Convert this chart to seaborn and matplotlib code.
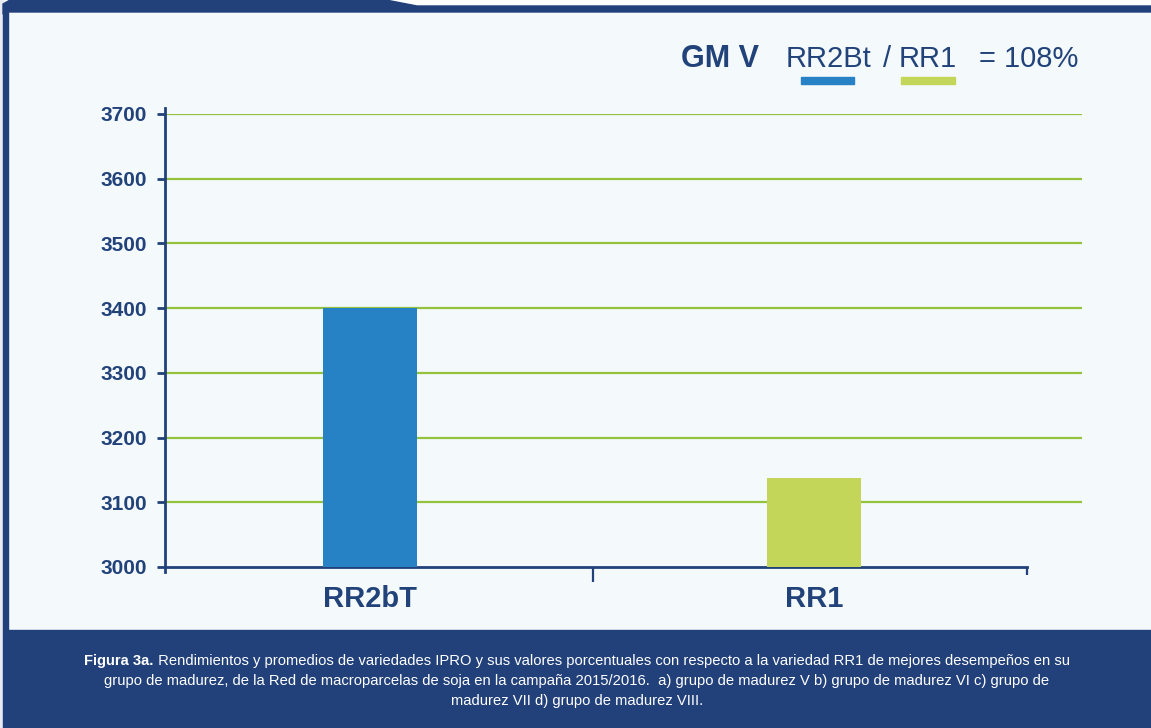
import matplotlib
matplotlib.use('Agg')
import matplotlib.pyplot as plt
import seaborn as sns
from matplotlib import font_manager
from matplotlib.patches import Polygon, Rectangle

# data
varieties = ['RR2bT', 'RR1']
yields = [3400, 3138]
bar_colors = ['#2682C4', '#C4D65A']
yticks = [3000, 3100, 3200, 3300, 3400, 3500, 3600, 3700]

title_lead = 'GM V'
title_parts = ['RR2Bt', '/', 'RR1', '= 108%']
caption_bold = 'Figura 3a.'
caption_lines = [
    ' Rendimientos y promedios de variedades IPRO y sus valores porcentuales con respecto a la variedad RR1 de mejores desempeños en su',
    'grupo de madurez, de la Red de macroparcelas de soja en la campaña 2015/2016.  a) grupo de madurez V b) grupo de madurez VI c) grupo de',
    'madurez VII d) grupo de madurez VIII.',
]

NAVY = '#22417A'
TXT = '#22427A'
GRID = '#95C23D'
BG = '#F4F9FC'

sns.set_theme(style='white')

names = {f.name for f in font_manager.fontManager.ttflist}
if 'Liberation Sans Narrow' in names:
    narrow = dict(family=['Liberation Sans Narrow', 'DejaVu Sans'])
else:
    narrow = dict(family=['Liberation Sans', 'DejaVu Sans'], stretch='condensed')
plt.rcParams['font.family'] = ['Liberation Sans', 'DejaVu Sans']

W, H = 1151, 728
fig = plt.figure(figsize=(W / 100, H / 100), dpi=100)
fig.patch.set_facecolor(BG)


def px(x, y):
    return (x / W, 1 - y / H)


# frame decorations
fig.add_artist(Rectangle(px(0, 12), 1, 12 / H, transform=fig.transFigure,
                         color='white', zorder=0))
fig.add_artist(Rectangle(px(0, H), 3 / W, 1, transform=fig.transFigure,
                         color='#E8ECF2', zorder=0))
top = [px(3, 14), px(3, 4), px(10, 0), px(386, 0), px(417, 6), px(W, 6),
       px(W, 12), px(8, 12), px(8, 14)]
fig.add_artist(Polygon(top, closed=True, transform=fig.transFigure,
                       color=NAVY, zorder=1))
fig.add_artist(Rectangle(px(3, 630), 5 / W, 618 / H, transform=fig.transFigure,
                         color=NAVY, zorder=1))
fig.add_artist(Rectangle(px(3, H), 1, 98 / H, transform=fig.transFigure,
                         color=NAVY, zorder=1))

# axes
ax = fig.add_axes([165 / W, 1 - 567 / H, (1082 - 165) / W, (567 - 114) / H])
ax.set_facecolor('none')
sns.barplot(x=varieties, y=yields, hue=varieties, palette=bar_colors,
            width=0.212, legend=False, saturation=1, linewidth=0,
            ax=ax, zorder=3)
ax.set_xlim(-0.4617, 1.6036)
ax.set_ylim(3000, 3700)
ax.set_yticks(yticks)
ax.set_yticklabels([str(v) for v in yticks], color=TXT, fontsize=15,
                   fontweight='bold', **narrow)
ax.set_xticks([0, 1])
ax.set_xticklabels(varieties, color=TXT, fontsize=21, fontweight='bold',
                   **narrow)
ax.set_xlabel('')
ax.set_ylabel('')
ax.yaxis.grid(True, color=GRID, linewidth=1.6, zorder=1)
ax.yaxis.get_major_ticks()[0].gridline.set_visible(False)
ax.set_axisbelow(True)
for s in ['top', 'right']:
    ax.spines[s].set_visible(False)
for s in ['left', 'bottom']:
    ax.spines[s].set_color(NAVY)
    ax.spines[s].set_linewidth(2)
ax.spines['bottom'].set_bounds(-0.4617, 1.48)
ax.spines['left'].set_bounds(2992, 3710)
ax.tick_params(axis='y', length=6, width=2, color=NAVY, pad=7, left=True)
ax.tick_params(axis='x', which='major', length=0, pad=13)
ax.set_xticks([0.502, 1.48], minor=True)
ax.tick_params(axis='x', which='minor', length=11, width=1.6, color=NAVY,
               bottom=True)
ax.xaxis.get_minor_ticks()[1].tick1line.set_markersize(6)

# title
fig.text(681 / W, 1 - 67 / H, title_lead, fontsize=22, fontweight='bold',
         color=TXT, ha='left', va='baseline')
fig.text(829 / W, 1 - 67 / H, title_parts[0], fontsize=21, color=TXT,
         ha='center', va='baseline')
fig.text(887 / W, 1 - 67 / H, title_parts[1], fontsize=21, color=TXT,
         ha='center', va='baseline')
fig.text(928 / W, 1 - 67 / H, title_parts[2], fontsize=21, color=TXT,
         ha='center', va='baseline')
fig.text(1078 / W, 1 - 67 / H, title_parts[3], fontsize=21, color=TXT,
         ha='right', va='baseline')
fig.add_artist(Rectangle(px(801, 84), 53 / W, 7 / H, transform=fig.transFigure,
                         color=bar_colors[0]))
fig.add_artist(Rectangle(px(901, 84), 54 / W, 7 / H, transform=fig.transFigure,
                         color=bar_colors[1]))

# caption
r = fig.canvas.get_renderer()
cx = 577
ys = [665, 685, 705]
cfs = 10.6
t1 = fig.text(0, 1 - ys[0] / H, caption_bold, fontsize=cfs, fontweight='bold',
              color='white', va='baseline', **narrow)
t2 = fig.text(0, 1 - ys[0] / H, caption_lines[0], fontsize=cfs,
              color='white', va='baseline', **narrow)
w1 = t1.get_window_extent(r).width
w2 = t2.get_window_extent(r).width
x0 = cx - (w1 + w2) / 2
t1.set_x(x0 / W)
t2.set_x((x0 + w1) / W)
for line, y in zip(caption_lines[1:], ys[1:]):
    fig.text(cx / W, 1 - y / H, line, fontsize=cfs, color='white',
             ha='center', va='baseline', **narrow)

fig.savefig('out.png', dpi=100, facecolor=fig.get_facecolor())
